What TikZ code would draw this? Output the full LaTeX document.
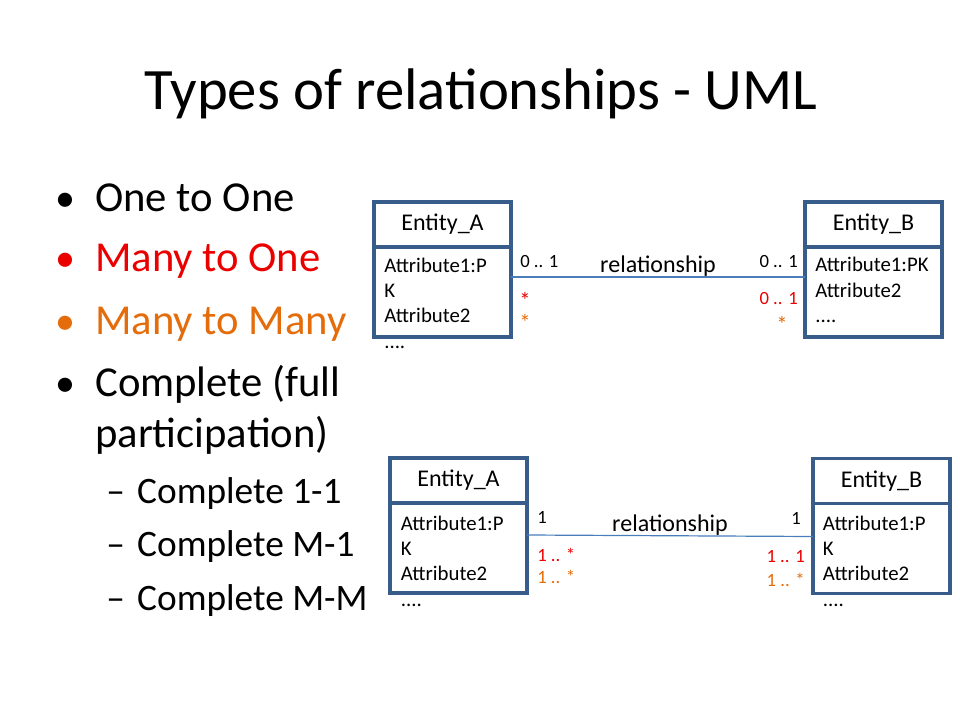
\documentclass[tikz,border=0pt]{standalone}
\usepackage{fontspec}
\setmainfont{Carlito}
\usetikzlibrary{positioning}

\definecolor{boxblue}{RGB}{56,93,138}
\definecolor{lineblue}{RGB}{74,126,187}
\definecolor{manyred}{RGB}{235,0,0}
\definecolor{manyorange}{RGB}{228,108,10}

\tikzset{
	entity/.style={draw=boxblue, line width=2.8pt, minimum width=102.75pt, inner sep=0pt, outer sep=0pt},
	enthead/.style={entity, minimum height=33.75pt, font=\fontsize{18}{21}\selectfont},
	entbody/.style={entity, minimum height=67.5pt},
	attr/.style={anchor=base west, inner sep=0pt, align=left, font=\fontsize{15.6}{19.1}\selectfont},
	mult/.style={inner sep=0pt, font=\fontsize{14}{16}\selectfont},
	multstar/.style={inner sep=0pt, anchor=base, font=\fontsize{17}{18}\selectfont},
	relline/.style={draw=lineblue, line width=0.9pt},
	item/.style={anchor=base west, inner sep=0pt, font=\fontsize{32}{38}\selectfont},
	subitem/.style={anchor=base west, inner sep=0pt, font=\fontsize{28}{34}\selectfont},
	dot/.style={anchor=base, inner sep=0pt, font=\fontsize{30}{36}\selectfont}
}

\begin{document}
\begin{tikzpicture}[x=0.75pt, y=-0.75pt]
	\useasboundingbox (0,0) rectangle (960,720);

	\node[anchor=base, inner sep=0pt, font=\fontsize{44}{53}\selectfont] (title) at (481,110) {Types of relationships - UML};

	% bullet list
	\node[dot] (d1) at (65,212) {•};
	\node[item] (i1) at (95,212) {One to One};
	\node[dot, text=manyred] (d2) at (65,272) {•};
	\node[item, text=manyred] (i2) at (95,272) {Many to One};
	\node[dot, text=manyorange] (d3) at (65,334.5) {•};
	\node[item, text=manyorange] (i3) at (95,334.5) {Many to Many};
	\node[dot] (d4) at (65,396) {•};
	\node[item] (i4) at (95,396) {Complete (full};
	\node[item] (i5) at (95,447) {participation)};
	\node[subitem] (s1) at (106,503) {–\hspace{9.25pt}Complete 1-1};
	\node[subitem] (s2) at (106,556.5) {–\hspace{9.25pt}Complete M-1};
	\node[subitem] (s3) at (106,610) {–\hspace{9.25pt}Complete M-M};

	% upper diagram (attribute nodes sit on the baseline of their last line)
	\node[enthead] (A1head) at (442.5,224.5) {Entity\_A};
	\node[entbody, below=0pt of A1head] (A1body) {};
	\node[attr] (A1attr) at (384,348.4) {Attribute1:P\\K\\Attribute2\\....};
	\node[enthead] (B1head) at (873.5,224.5) {Entity\_B};
	\node[entbody, below=0pt of B1head] (B1body) {};
	\node[attr] (B1attr) at (815,322.9) {Attribute1:PK\\Attribute2\\....};
	\draw[relline] ([yshift=-22.5pt]A1body.north east) -- node[midway, above, inner sep=0pt, font=\fontsize{18}{21}\selectfont] (rel1) {relationship} ([yshift=-22.5pt]B1body.north west);
	\node[mult, anchor=base west] (m1a) at (520,268) {0 .. 1};
	\node[multstar, text=manyred] (m1b) at (525,309) {*};
	\node[multstar, text=manyorange] (m1c) at (525,330) {*};
	\node[mult, anchor=base east] (n1a) at (798,268) {0 .. 1};
	\node[mult, anchor=base east, text=manyred] (n1b) at (798,305) {0 .. 1};
	\node[multstar, text=manyorange] (n1c) at (782,332) {*};

	% lower diagram
	\node[enthead] (A2head) at (458.5,480.5) {Entity\_A};
	\node[entbody, below=0pt of A2head] (A2body) {};
	\node[attr] (A2attr) at (400.7,606.4) {Attribute1:P\\K\\Attribute2\\....};
	\node[enthead] (B2head) at (881.5,481) {Entity\_B};
	\node[entbody, below=0pt of B2head] (B2body) {};
	\node[attr] (B2attr) at (822.7,606.4) {Attribute1:P\\K\\Attribute2\\....};
	\draw[relline] ([yshift=-24pt]A2body.north east) -- node[midway, above, inner sep=0pt, font=\fontsize{18}{21}\selectfont] (rel2) {relationship} ([yshift=-24.75pt]B2body.north west);
	\node[mult, anchor=base west] (m2a) at (537,523) {1};
	\node[mult, anchor=base west, text=manyred] (m2b) at (537,561.5) {1 .. *};
	\node[mult, anchor=base west, text=manyorange] (m2c) at (537,583.5) {1 .. *};
	\node[mult, anchor=base east] (n2a) at (801,524) {1};
	\node[mult, anchor=base east, text=manyred] (n2b) at (805,562) {1 .. 1};
	\node[mult, anchor=base east, text=manyorange] (n2c) at (805,586) {1 .. *};
\end{tikzpicture}
\end{document}
